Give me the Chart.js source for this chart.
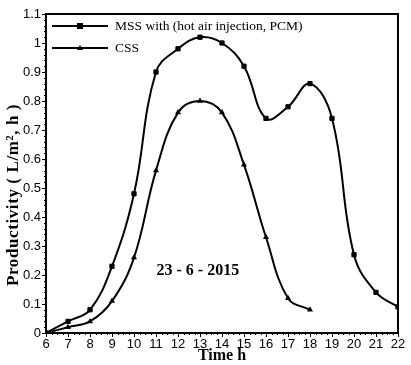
<!DOCTYPE html>
<html>
<head>
<meta charset="utf-8">
<script src="https://cdn.jsdelivr.net/npm/chart.js@4"></script>
<style>
  html, body { margin: 0; padding: 0; background: #fff; }
  #wrap { width: 411px; height: 365px; }
</style>
</head>
<body>
<div id="wrap"><canvas id="productivity"></canvas></div>
<script>
// time of day (h)
var hoursMSS = [6, 7, 8, 9, 10, 11, 12, 13, 14, 15, 16, 17, 18, 19, 20, 21, 22];
var valuesMSS = [0, 0.04, 0.08, 0.23, 0.48, 0.90, 0.98, 1.02, 1.00, 0.92, 0.74, 0.78, 0.86, 0.74, 0.27, 0.14, 0.09];
var hoursCSS = [6, 7, 8, 9, 10, 11, 12, 13, 14, 15, 16, 17, 18];
var valuesCSS = [0, 0.02, 0.04, 0.11, 0.26, 0.56, 0.76, 0.80, 0.76, 0.58, 0.33, 0.12, 0.08];
var seriesNames = ['MSS with (hot air injection, PCM)', 'CSS'];
var yTitle = 'Productivity ( L/m², h )';
var dateNote = '23 - 6 - 2015';

var serif = '"Liberation Serif", "Times New Roman", serif';
var sans = '"Liberation Sans", Arial, sans-serif';

function pairs(xs, ys) {
    return xs.map(function (x, i) { return {x: x, y: ys[i]}; });
}

// box frame, minor ticks, y title, inside legend and date label
var decorations = {
    id: 'decorations',
    afterDraw: function (chart) {
        var ctx = chart.ctx;
        var a = chart.chartArea;
        var xs = chart.scales.x, ys = chart.scales.y;
        ctx.save();
        ctx.strokeStyle = '#000';
        ctx.fillStyle = '#000';

        // minor ticks
        ctx.lineWidth = 1;
        ctx.beginPath();
        for (var v = 0; v <= 1.1001; v += 0.02) {
            var py = Math.round(ys.getPixelForValue(v)) + 0.5;
            ctx.moveTo(a.left - 2, py);
            ctx.lineTo(a.left, py);
        }
        for (var h = 6; h <= 22.001; h += 0.25) {
            var px = Math.round(xs.getPixelForValue(h)) + 0.5;
            ctx.moveTo(px, a.bottom);
            ctx.lineTo(px, a.bottom + 2);
        }
        ctx.stroke();

        // frame
        ctx.lineWidth = 2;
        ctx.strokeRect(a.left, a.top, a.right - a.left, a.bottom - a.top);

        // y title (sits a bit below the middle, letter-spaced)
        ctx.save();
        ctx.translate(14, 195);
        ctx.rotate(-Math.PI / 2);
        ctx.font = 'bold 17px ' + serif;
        if ('letterSpacing' in ctx) ctx.letterSpacing = '0.6px';
        ctx.textAlign = 'center';
        ctx.textBaseline = 'middle';
        ctx.fillText(yTitle, 0, 0);
        ctx.restore();

        // legend
        var items = chart.data.datasets;
        var lx = a.left + 6, ly = a.top + 12;
        items.forEach(function (ds, i) {
            var y = ly + i * 22;
            ctx.lineWidth = 2;
            ctx.beginPath();
            ctx.moveTo(lx, y);
            ctx.lineTo(lx + 56, y);
            ctx.stroke();
            var cx = lx + 28;
            if (ds.pointStyle === 'rect') {
                ctx.fillRect(cx - 3, y - 3, 6, 6);
            } else {
                ctx.beginPath();
                ctx.moveTo(cx, y - 3);
                ctx.lineTo(cx + 3, y + 2);
                ctx.lineTo(cx - 3, y + 2);
                ctx.closePath();
                ctx.fill();
            }
            ctx.font = '13.5px ' + serif;
            ctx.textBaseline = 'middle';
            ctx.textAlign = 'left';
            ctx.fillText(ds.label, lx + 63, y);
        });

        // date note
        ctx.font = 'bold 16px ' + serif;
        ctx.textAlign = 'center';
        ctx.textBaseline = 'middle';
        ctx.fillText(dateNote, xs.getPixelForValue(12.9), ys.getPixelForValue(0.215));
        ctx.restore();
    }
};

var ctx = document.getElementById('productivity').getContext('2d');
var chart = new Chart(ctx, {
    type: 'line',
    data: {
        datasets: [{
            label: seriesNames[0],
            data: pairs(hoursMSS, valuesMSS),
            borderColor: '#000',
            backgroundColor: '#000',
            borderWidth: 2,
            pointStyle: 'rect',
            pointRadius: 3,
            pointBorderWidth: 1,
            tension: 0.4,
            fill: false
        }, {
            label: seriesNames[1],
            data: pairs(hoursCSS, valuesCSS),
            borderColor: '#000',
            backgroundColor: '#000',
            borderWidth: 2,
            pointStyle: 'triangle',
            pointRadius: 3.5,
            pointBorderWidth: 0,
            tension: 0.4,
            fill: false
        }]
    },
    options: {
        responsive: true,
        maintainAspectRatio: false,
        animation: false,
        layout: {padding: {left: 0, top: 14, right: 13, bottom: 0}},
        plugins: {legend: {display: false}, tooltip: {enabled: false}},
        scales: {
            x: {
                type: 'linear',
                min: 6, max: 22,
                afterFit: function (s) { s.height = 32; },
                border: {display: true, color: '#000', width: 2},
                grid: {drawOnChartArea: false, color: '#000', tickLength: 4, lineWidth: 1},
                ticks: {stepSize: 1, color: '#000', padding: 0, maxRotation: 0,
                        font: {family: sans, size: 13}},
                title: {display: true, text: 'Time h', color: '#000', padding: 0,
                        font: {family: serif, size: 16, weight: 'bold'}}
            },
            y: {
                min: 0, max: 1.1,
                afterFit: function (s) { s.width = 46; },
                border: {display: true, color: '#000', width: 2},
                grid: {drawOnChartArea: false, color: '#000', tickLength: 4, lineWidth: 1},
                ticks: {stepSize: 0.1, color: '#000', padding: 1,
                        font: {family: sans, size: 13},
                        callback: function (v) { return Math.round(v * 10) / 10; }},
                title: {display: false}
            }
        }
    },
    plugins: [decorations]
});
</script>
</body>
</html>
